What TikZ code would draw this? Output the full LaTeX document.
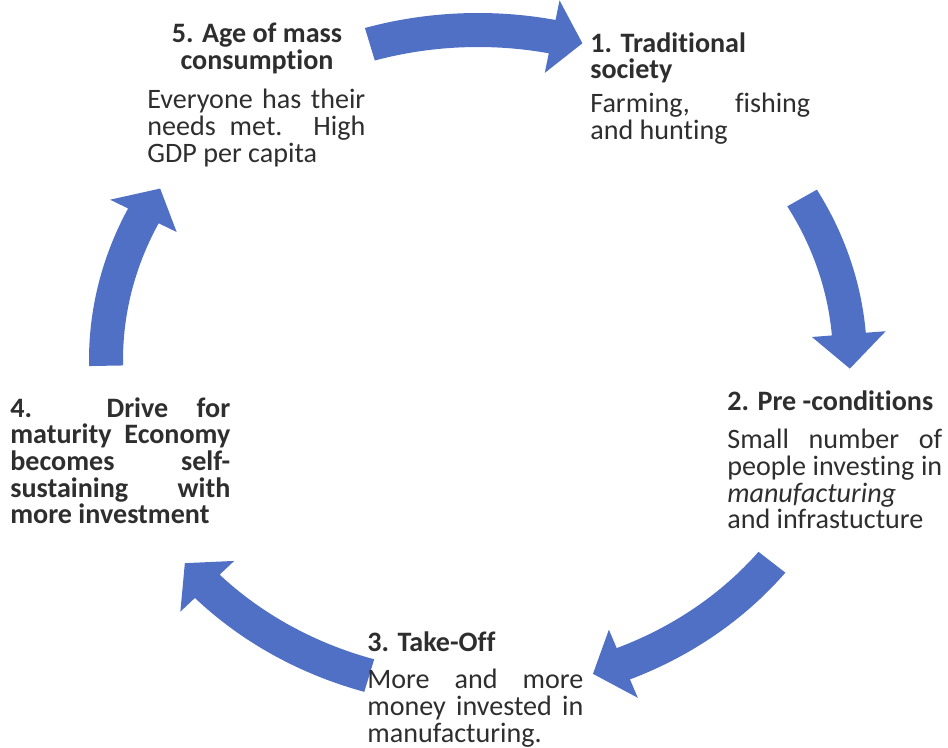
\documentclass[tikz,border=0pt]{standalone}
\usepackage{fontspec}
\setmainfont{Carlito}[Ligatures=NoCommon]
\usepackage{tikz}
\definecolor{arrowblue}{RGB}{79,112,196}
\definecolor{ink}{gray}{0.18}
\hyphenpenalty=10000
\lineskiplimit=-20pt

\begin{document}
\begin{tikzpicture}[x=0.02cm, y=0.02cm,
  head/.style={inner sep=0pt, text=ink, font={\fontsize{16}{15}\selectfont\bfseries}},
  body/.style={inner sep=0pt, text=ink, anchor=north west, align=justify, font={\fontsize{16}{15.2}\selectfont}}]
\useasboundingbox (0,0) rectangle (948,748);
% curved arrows of the cycle, tail/head base/tip angles
\begin{scope}[shift={(478,388)}]
\foreach \a/\c/\b in {106.9/78.5/73.7, 29.4/4.5/-1.5, -37.8/-67/-72, -107/-136.7/-142, 181/154.1/148.7}{
\fill[arrowblue] (\a:389 and 347) arc[start angle=\a, end angle=\c, x radius=389, y radius=347]
  -- (\c:409 and 367) -- (\b:372 and 330) -- (\c:335 and 293) -- (\c:355 and 313)
  arc[start angle=\c, end angle=\a, x radius=355, y radius=313] -- cycle;
}
\end{scope}
% stage 1
\node[head, anchor=north west, align=left] (t1) at (590,716) {1. Traditional\\society};
\node[body, text width=4.4cm] (b1) at (590,655) {Farming, fishing\linebreak and hunting};
% stage 2
\node[head, anchor=north west, align=left] (t2) at (727,358) {2. Pre -conditions};
\node[body, text width=4.3cm] (b2) at (727,319) {Small number of\linebreak people investing in\linebreak \textit{manufacturing}\newline and infrastucture};
% stage 3
\node[head, anchor=north west, align=left] (t3) at (367,117) {3. Take-Off};
\node[body, text width=4.32cm] (b3) at (367,79) {More and more\linebreak money invested in\linebreak manufacturing.};
% stage 4
\node[body, text width=4.4cm, font={\fontsize{16}{15.2}\selectfont\bfseries}] (b4) at (10,351) {4. Drive for\linebreak maturity Economy\linebreak becomes self-\linebreak sustaining with\linebreak more investment};
% stage 5
\node[head, anchor=north, align=center] (t5) at (257,725) {5. Age of mass\\consumption};
\node[body, text width=4.36cm] (b5) at (147,659) {Everyone has their\linebreak needs met. High\linebreak GDP per capita};
\end{tikzpicture}
\end{document}
